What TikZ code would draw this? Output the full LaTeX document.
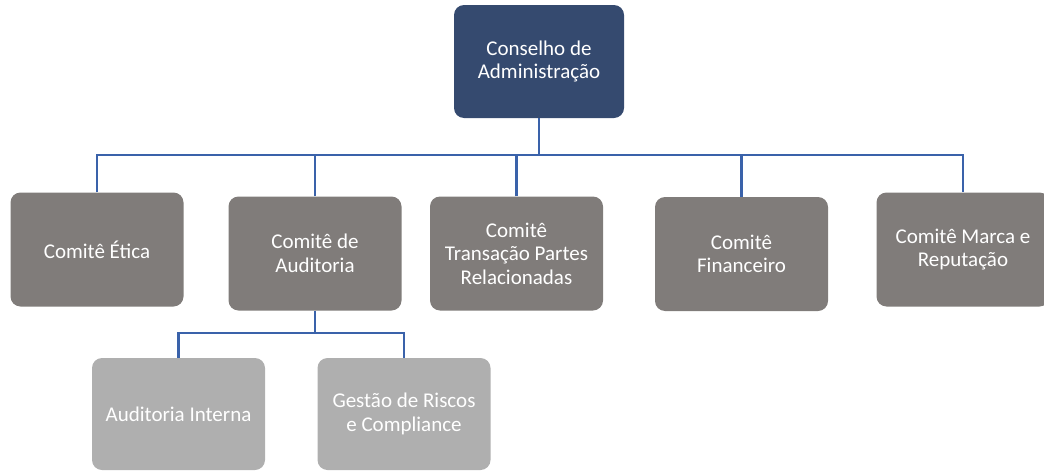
\documentclass[tikz,border=0pt]{standalone}
\usepackage{fontspec}
\setmainfont{Carlito}
\definecolor{navy}{RGB}{53,74,111}
\definecolor{darkgrey}{RGB}{128,124,122}
\definecolor{lightgrey}{RGB}{175,175,175}
\definecolor{linkblue}{RGB}{58,98,170}
\begin{document}
\begin{tikzpicture}[x=1pt,y=-1pt,
  box/.style={rounded corners=10pt, text=white, align=center, inner sep=0pt,
    font=\fontsize{21}{23.5}\selectfont, minimum width=173pt, minimum height=114pt},
  topbox/.style={box, fill=navy, minimum width=170pt, minimum height=113pt},
  combox/.style={box, fill=darkgrey},
  subbox/.style={box, fill=lightgrey, minimum height=112pt},
  link/.style={draw=linkblue, line width=2.8pt}]
\useasboundingbox (0,0) rectangle (1044,471);
\node[topbox] (top) at (539,61.5) {Conselho de\\Administração};
\node[combox] (etica) at (97,249.5) {Comitê Ética};
\node[combox] (aud) at (315,253.5) {Comitê de\\Auditoria};
\node[combox] (trans) at (516.5,253.5) {Comitê\\Transação Partes\\Relacionadas};
\node[combox] (fin) at (741.5,254) {Comitê\\Financeiro};
\node[combox] (marca) at (963,249.5) {Comitê Marca e\\Reputação};
\node[subbox] (audint) at (178.5,414) {Auditoria Interna};
\node[subbox] (gestao) at (404,414) {Gestão de Riscos\\e Compliance};
\coordinate (bus) at (97,155);
\coordinate (subbus) at (178,333);
\draw[link] (top.south) -- (top.south |- bus);
\draw[link] (etica.north) -- (etica.north |- bus) -- (marca.north |- bus) -- (marca.north);
\draw[link] (aud.north) -- (aud.north |- bus);
\draw[link] (trans.north) -- (trans.north |- bus);
\draw[link] (fin.north) -- (fin.north |- bus);
\draw[link] (aud.south) -- (aud.south |- subbus);
\draw[link] (audint.north) -- (audint.north |- subbus) -- (gestao.north |- subbus) -- (gestao.north);
\end{tikzpicture}
\end{document}
